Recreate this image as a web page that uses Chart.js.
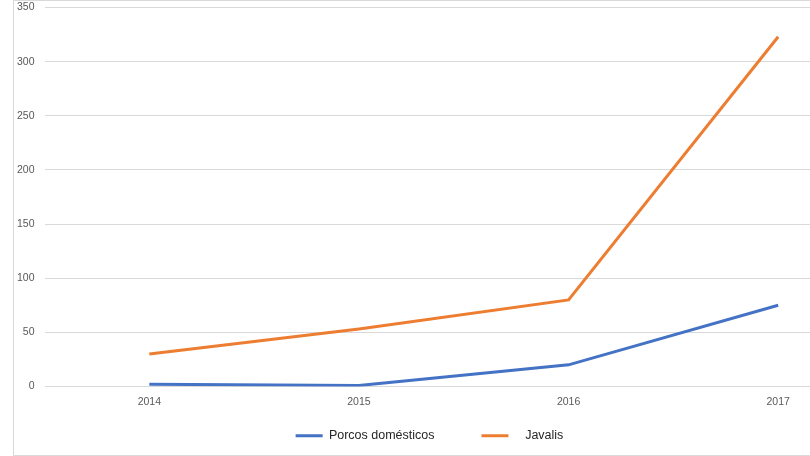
<!DOCTYPE html>
<html>
<head>
<meta charset="utf-8">
<script src="https://cdn.jsdelivr.net/npm/chart.js@4"></script>
<style>
  html, body { margin: 0; padding: 0; background: #fff; overflow: hidden; }
  #wrap { position: relative; width: 810px; height: 456px; overflow: hidden; }
  #frame { position: absolute; left: 13px; top: 0; width: 900px; height: 454px;
           border-left: 1px solid #d9d9d9; border-top: 1px solid #d9d9d9; border-bottom: 1px solid #d9d9d9; }
  #financeChart { position: absolute; left: 0; top: 0; }
</style>
</head>
<body>
<div id="wrap">
  <div id="frame"></div>
  <canvas id="financeChart" width="883" height="486"></canvas>
</div>
<script>
const years = ['2014', '2015', '2016', '2017'];
const porcosDomesticos = [2, 1, 20, 75];
const javalis = [30, 53, 80, 323];
const seriesNames = ['Porcos domésticos', '   Javalis'];
const yTicks = [0, 50, 100, 150, 200, 250, 300, 350];

// nudge the legend to where the original sits
const legendShift = {
    id: 'legendShift',
    beforeDraw(chart) {
        const lg = chart.legend;
        lg.left -= 12; lg.right -= 12;
        lg.top -= 34; lg.bottom -= 34;
    }
};

const ctx = document.getElementById('financeChart').getContext('2d');
const chart = new Chart(ctx, {
    type: 'line',
    data: {
        labels: years,
        datasets: [{
            label: seriesNames[0],
            data: porcosDomesticos,
            borderColor: '#4472C4',
            backgroundColor: '#4472C4',
            borderWidth: 3,
            pointRadius: 0,
            tension: 0
        }, {
            label: seriesNames[1],
            data: javalis,
            borderColor: '#ED7D31',
            backgroundColor: '#ED7D31',
            borderWidth: 3,
            pointRadius: 0,
            tension: 0
        }]
    },
    options: {
        responsive: false,
        animation: false,
        layout: { padding: 0 },
        plugins: {
            tooltip: { enabled: false },
            legend: {
                position: 'bottom',
                labels: {
                    boxWidth: 27,
                    boxHeight: 3,
                    padding: 47,
                    color: '#262626',
                    font: { family: 'Liberation Sans', size: 12.5 },
                    generateLabels(c) {
                        const items = Chart.defaults.plugins.legend.labels.generateLabels(c);
                        items.forEach(it => { it.lineWidth = 0; });
                        return items;
                    }
                }
            }
        },
        scales: {
            x: {
                offset: true,
                grid: { display: false, drawTicks: false },
                border: { display: false },
                ticks: { color: '#595959', padding: 9, font: { family: 'Liberation Sans', size: 10.5 } },
                afterFit(s) { s.height = 30; }
            },
            y: {
                min: 0,
                max: 350,
                afterBuildTicks(s) { s.ticks = yTicks.map(v => ({ value: v })); },
                grid: { color: '#d9d9d9', drawTicks: false },
                border: { display: false },
                ticks: { color: '#595959', padding: 10, font: { family: 'Liberation Sans', size: 10.5 } },
                afterFit(s) { s.width = 44.5; s.paddingTop = 7.5; }
            }
        }
    },
    plugins: [legendShift]
});
</script>
</body>
</html>
